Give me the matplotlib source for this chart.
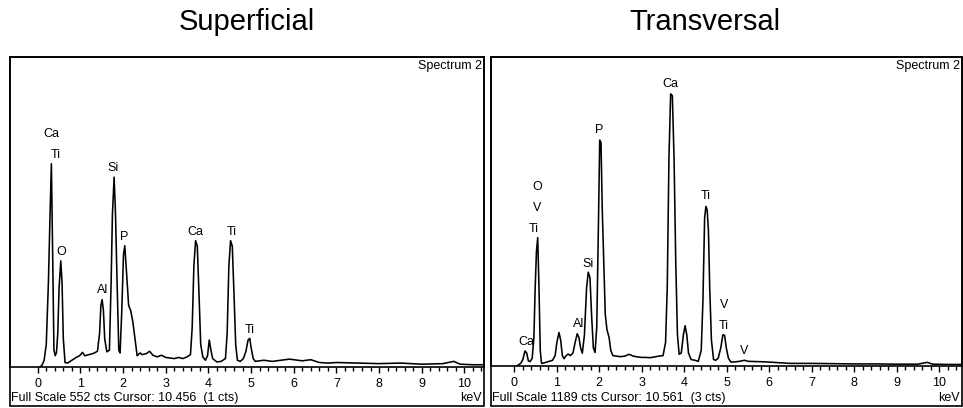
import matplotlib
matplotlib.use("Agg")
import matplotlib.pyplot as plt
from matplotlib.patches import Rectangle

plt.rcParams['font.family'] = ['Liberation Sans', 'DejaVu Sans']

# ---------------- data ----------------
titles = ["Superficial", "Transversal"]
full_scale = [552, 1189]
cursor_text = ["Full Scale 552 cts Cursor: 10.456  (1 cts)",
               "Full Scale 1189 cts Cursor: 10.561  (3 cts)"]

sup_energy = [0.05, 0.10, 0.15, 0.20, 0.25, 0.29, 0.32, 0.35, 0.38, 0.41, 0.44, 0.47,
              0.50, 0.54, 0.57, 0.60, 0.64, 0.70, 0.80, 0.90, 0.98, 1.05, 1.10, 1.20,
              1.30, 1.40, 1.45, 1.48, 1.51, 1.54, 1.57, 1.62, 1.68, 1.72, 1.75, 1.79,
              1.82, 1.86, 1.90, 1.93, 1.97, 2.01, 2.04, 2.08, 2.13, 2.18, 2.23, 2.28,
              2.33, 2.40, 2.45, 2.55, 2.62, 2.70, 2.80, 2.90, 3.00, 3.10, 3.20, 3.30,
              3.40, 3.50, 3.58, 3.62, 3.66, 3.70, 3.74, 3.78, 3.82, 3.87, 3.93, 3.98,
              4.02, 4.06, 4.10, 4.20, 4.30, 4.40, 4.44, 4.48, 4.52, 4.56, 4.60, 4.64,
              4.68, 4.75, 4.82, 4.88, 4.93, 4.97, 5.00, 5.05, 5.10, 5.30, 5.50, 5.70,
              5.90, 6.00, 6.20, 6.40, 6.60, 6.80, 7.00, 7.50, 8.00, 8.50, 9.00, 9.50,
              9.75, 9.90, 10.20, 10.46]
sup_counts = [0, 3, 12, 40, 150, 275, 362, 200, 30, 20, 26, 60,
              140, 189, 150, 50, 8, 7, 12, 17, 20, 26, 20, 22,
              24, 28, 60, 110, 120, 100, 50, 27, 30, 150, 270, 338,
              280, 150, 30, 25, 100, 200, 216, 170, 110, 100, 80, 50,
              20, 25, 22, 24, 28, 21, 18, 21, 17, 16, 15, 17,
              15, 18, 22, 70, 180, 225, 215, 130, 40, 18, 12, 20,
              48, 30, 15, 9, 10, 15, 60, 180, 225, 215, 130, 40,
              12, 10, 15, 28, 48, 51, 35, 15, 10, 12, 10, 12,
              14, 13, 11, 13, 8, 7, 8, 7, 6, 7, 5, 6,
              10, 5, 4, 4]

tra_energy = [0.05, 0.10, 0.15, 0.20, 0.25, 0.29, 0.33, 0.37, 0.42, 0.46, 0.49, 0.52,
              0.55, 0.58, 0.61, 0.64, 0.70, 0.80, 0.90, 0.96, 1.00, 1.05, 1.09, 1.13,
              1.17, 1.22, 1.27, 1.32, 1.38, 1.43, 1.48, 1.52, 1.56, 1.60, 1.65, 1.70,
              1.74, 1.78, 1.82, 1.86, 1.90, 1.94, 1.98, 2.01, 2.04, 2.07, 2.10, 2.14,
              2.18, 2.23, 2.27, 2.32, 2.40, 2.50, 2.60, 2.70, 2.80, 2.90, 3.00, 3.10,
              3.20, 3.30, 3.40, 3.50, 3.56, 3.60, 3.64, 3.68, 3.72, 3.76, 3.80, 3.84,
              3.88, 3.93, 3.98, 4.02, 4.06, 4.10, 4.16, 4.25, 4.33, 4.40, 4.44, 4.48,
              4.51, 4.54, 4.57, 4.60, 4.64, 4.69, 4.74, 4.80, 4.86, 4.91, 4.95, 4.99,
              5.04, 5.10, 5.20, 5.30, 5.42, 5.50, 5.70, 5.90, 6.10, 6.30, 6.50, 7.00,
              7.50, 8.00, 8.50, 9.00, 9.50, 9.72, 9.85, 10.20, 10.55]
tra_counts = [0, 5, 10, 25, 58, 50, 20, 17, 30, 110, 300, 440,
              494, 300, 60, 10, 12, 17, 22, 40, 90, 129, 100, 40,
              28, 40, 46, 40, 50, 90, 124, 110, 70, 49, 120, 300,
              361, 340, 190, 70, 52, 150, 550, 869, 860, 600, 430, 200,
              140, 110, 60, 40, 38, 36, 38, 45, 38, 35, 33, 33,
              32, 35, 38, 40, 90, 300, 800, 1047, 1040, 800, 400, 120,
              45, 50, 120, 155, 120, 50, 25, 22, 18, 60, 250, 570,
              614, 600, 520, 300, 100, 25, 22, 30, 70, 120, 118, 70,
              30, 15, 16, 18, 22, 18, 17, 16, 14, 12, 10, 10,
              9, 8, 8, 7, 7, 14, 7, 6, 6]

# peak identification labels: text, energy (keV), height (cts)
sup_labels = ["Ca", "Ti", "O", "Al", "Si", "P", "Ca", "Ti", "Ti"]
sup_label_e = [0.33, 0.43, 0.56, 1.52, 1.77, 2.03, 3.70, 4.55, 4.96]
sup_label_c = [415, 378, 204, 137, 355, 232, 241, 241, 66]

tra_labels = ["Ca", "P", "O", "V", "Ti", "Si", "Al", "Ca", "Ti", "V", "Ti", "V"]
tra_label_e = [3.68, 2.00, 0.53, 0.53, 0.46, 1.74, 1.51, 0.29, 4.51, 4.93, 4.93, 5.42]
tra_label_c = [1084, 908, 688, 607, 529, 394, 163, 94, 653, 234, 155, 56]

major_ticks = list(range(0, 11))

# ---------------- layout (pixels) ----------------
W, H = 963, 408
panels = [
    dict(x0=10, x1=484, top=57, base=367, bottom=406, xlim=(-0.65, 10.46), title_x=247),
    dict(x0=491, x1=962, top=57, base=366, bottom=406, xlim=(-0.55, 10.54), title_x=705),
]
spectra = [(sup_energy, sup_counts, sup_labels, sup_label_e, sup_label_c),
           (tra_energy, tra_counts, tra_labels, tra_label_e, tra_label_c)]

fig = plt.figure(figsize=(W / 100, H / 100), dpi=100)
small = 9.0

for i, (p, spec) in enumerate(zip(panels, spectra)):
    energy, counts, labels, lab_e, lab_c = spec
    ax = fig.add_axes([p['x0'] / W, 1 - p['base'] / H,
                       (p['x1'] - p['x0']) / W, (p['base'] - p['top']) / H])
    ax.plot(energy, counts, color='black', lw=1.15)
    ax.set_xlim(*p['xlim'])
    ax.set_ylim(0, full_scale[i])
    ax.set_yticks([])
    ax.set_xticks(major_ticks)
    ax.set_xticks([t / 5 for t in range(0, 53)], minor=True)
    ax.tick_params(axis='x', which='major', direction='out', length=4, width=1,
                   pad=4, labelsize=small)
    ax.tick_params(axis='x', which='minor', direction='out', length=3, width=1)
    for s in ax.spines.values():
        s.set_color('black')
        s.set_linewidth(1.2)

    for t, e, c in zip(labels, lab_e, lab_c):
        ax.text(e, c, t, ha='center', va='center', fontsize=small)

    ax.text(0.996, 0.99, "Spectrum 2", transform=ax.transAxes,
            ha='right', va='top', fontsize=small)

    # outer frame around plot and status line
    fig.patches.append(Rectangle((p['x0'] / W, 1 - p['bottom'] / H),
                                 (p['x1'] - p['x0']) / W,
                                 (p['bottom'] - p['top']) / H,
                                 transform=fig.transFigure, fill=False,
                                 edgecolor='black', lw=1.2))
    fig.text((p['x0'] + 1) / W, 1 - 398 / H, cursor_text[i],
             ha='left', va='center', fontsize=small)
    fig.text((p['x1'] - 2) / W, 1 - 398 / H, "keV",
             ha='right', va='center', fontsize=small)

    fig.text(p['title_x'] / W, 1 - 22 / H, titles[i], ha='center', va='center',
             fontsize=21)

fig.savefig("out.png", dpi=100, facecolor='white')
